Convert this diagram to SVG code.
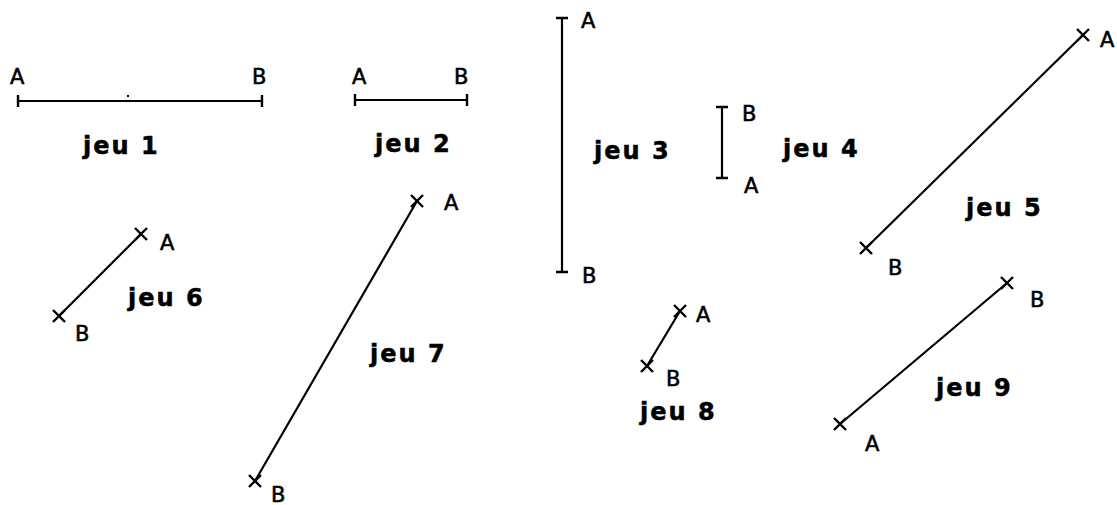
<svg xmlns="http://www.w3.org/2000/svg" width="1117" height="505" viewBox="0 0 1117 505">
<style>
.seg{stroke:#000;stroke-width:2.2;fill:none;stroke-linecap:round}
.mk{stroke:#000;stroke-width:2.4;fill:none}
.pt{font-family:"DejaVu Sans","Liberation Sans",sans-serif;font-size:21px;fill:#000;stroke:#000;stroke-width:0.6}
.lbl{font-family:"DejaVu Sans","Liberation Sans",sans-serif;font-size:24px;font-weight:bold;fill:#000;stroke:#000;stroke-width:0.5;letter-spacing:2px}
</style>
<rect width="1117" height="505" fill="#fff"/>
<g id="connectors">
<line class="seg" x1="18" y1="101" x2="262" y2="101"/>
<line class="seg" x1="355" y1="100" x2="467" y2="100"/>
<line class="seg" x1="562" y1="18" x2="562" y2="272"/>
<line class="seg" x1="722" y1="107" x2="722" y2="178"/>
<line class="seg" x1="1083" y1="35" x2="866" y2="248"/>
<line class="seg" x1="141" y1="234" x2="59" y2="316"/>
<line class="seg" x1="417" y1="201" x2="255" y2="481"/>
<line class="seg" x1="680" y1="311" x2="647" y2="366"/>
<line class="seg" x1="1007" y1="283" x2="840" y2="424"/>
</g>
<g id="jeu1">
<path class="mk" d="M18 95V107M262 95V107"/>
<rect x="127" y="95" width="2" height="2" fill="#000"/>
<text class="pt" x="10" y="84">A</text>
<text class="pt" x="252" y="84">B</text>
<text class="lbl" x="83" y="154">jeu 1</text>
</g>
<g id="jeu2">
<path class="mk" d="M355 94V106M467 94V106"/>
<text class="pt" x="352" y="84">A</text>
<text class="pt" x="454" y="84">B</text>
<text class="lbl" x="375" y="152">jeu 2</text>
</g>
<g id="jeu3">
<path class="mk" d="M556 18H568M556 272H568"/>
<text class="pt" x="581" y="28">A</text>
<text class="pt" x="582" y="283">B</text>
<text class="lbl" x="594" y="159">jeu 3</text>
</g>
<g id="jeu4">
<path class="mk" d="M716 107H728M716 178H728"/>
<text class="pt" x="742" y="121">B</text>
<text class="pt" x="744" y="193">A</text>
<text class="lbl" x="783" y="157">jeu 4</text>
</g>
<g id="jeu5">
<path class="mk" d="M1077 29L1089 41M1077 41L1089 29M860 242L872 254M860 254L872 242"/>
<text class="pt" x="1100" y="47">A</text>
<text class="pt" x="888" y="275">B</text>
<text class="lbl" x="966" y="216">jeu 5</text>
</g>
<g id="jeu6">
<path class="mk" d="M135 228L147 240M135 240L147 228M53 310L65 322M53 322L65 310"/>
<text class="pt" x="160" y="250">A</text>
<text class="pt" x="75" y="341">B</text>
<text class="lbl" x="128" y="306">jeu 6</text>
</g>
<g id="jeu7">
<path class="mk" d="M411 195L423 207M411 207L423 195M249 475L261 487M249 487L261 475"/>
<text class="pt" x="444" y="210">A</text>
<text class="pt" x="271" y="502">B</text>
<text class="lbl" x="370" y="362">jeu 7</text>
</g>
<g id="jeu8">
<path class="mk" d="M674 305L686 317M674 317L686 305M641 360L653 372M641 372L653 360"/>
<text class="pt" x="696" y="322">A</text>
<text class="pt" x="666" y="386">B</text>
<text class="lbl" x="640" y="420">jeu 8</text>
</g>
<g id="jeu9">
<path class="mk" d="M1001 277L1013 289M1001 289L1013 277M834 418L846 430M834 430L846 418"/>
<text class="pt" x="1030" y="307">B</text>
<text class="pt" x="865" y="451">A</text>
<text class="lbl" x="936" y="396">jeu 9</text>
</g>
</svg>
